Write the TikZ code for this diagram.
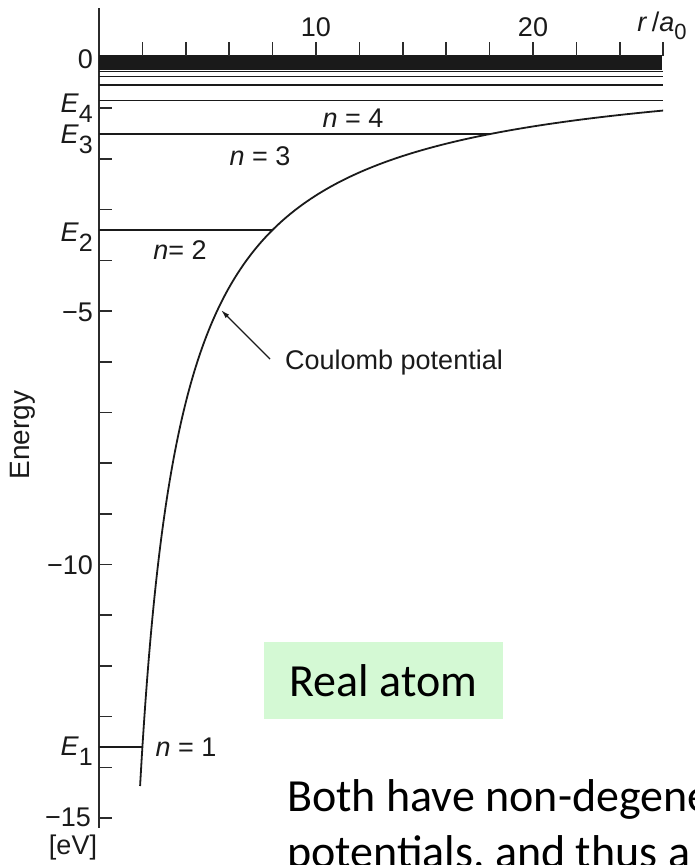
\documentclass[tikz,border=0pt]{standalone}
\usepackage{fontspec}
\setmainfont{Carlito}
\newfontfamily\figfont{Liberation Sans}
\usetikzlibrary{arrows.meta,positioning}
\definecolor{ink}{HTML}{1A1A1A}
\definecolor{axisC}{HTML}{2B2B2B}
\definecolor{boxC}{HTML}{D4F9D4}
\newcommand{\figsz}{\figfont\fontsize{27}{30}\selectfont}
\newcommand{\slidesz}{\fontsize{46}{56}\selectfont}
\newcommand{\esub}[1]{\textit{E}\raisebox{-10pt}{\fontsize{25}{25}\selectfont #1}}
\newcommand{\elevel}[1]{%
  \pgfmathsetmacro{\lvy}{57.5+689.52/(#1*#1)}%
  \pgfmathsetmacro{\lvx}{99+21.7*min(2*#1*#1,26)}%
  \draw[lvl] (99,\lvy) -- (\lvx,\lvy);
}
\tikzset{
  >={Latex[length=9pt,width=5pt]},
  axisln/.style={draw=axisC,line width=1.8pt},
  lvl/.style={draw=ink,line width=1.5pt},
  tk/.style={draw=axisC,line width=1.6pt},
  numlab/.style={font=\figsz,text=ink,inner sep=0pt},
  elab/.style={font=\figsz,text=ink,inner sep=0pt,anchor=base east},
  nlab/.style={font=\figsz,text=ink,inner sep=0pt},
  pot/.style={draw=ink,line width=1.8pt},
  ptr/.style={->,draw=ink,line width=1.4pt},
  realbox/.style={fill=boxC,minimum width=239pt,minimum height=77pt,font=\slidesz,text=black},
  slidetxt/.style={font=\slidesz,text=black,inner sep=0pt,anchor=base west},
}

\begin{document}
\begin{tikzpicture}[x=1pt,y=-1pt]
\useasboundingbox (0,0) rectangle (695,865);
\clip (0,0) rectangle (695,865);

% ================= AXES =================
\draw[axisln] (99,8) -- (99,828);
\fill[ink] (99,55) rectangle (662,70);
\foreach \k in {1,...,15} \draw[tk] (99,57.5+50.7*\k) -- (112,57.5+50.7*\k);
\foreach \r in {2,4,...,26} \draw[tk] (99+21.7*\r,56) -- (99+21.7*\r,42);

% ================= LEVELS + POTENTIAL =================
\foreach \n in {1,...,7} {\elevel{\n}}
\draw[pot] plot[domain=1.893:26,samples=300,smooth] ({99+21.7*\x},{57.5+1379.04/\x});

% ================= LABELS =================
\node[numlab,anchor=east] (z0) at (93,59) {0};
\node[numlab,anchor=east] (m5) at (93,312) {−5};
\node[numlab,anchor=east] (m10) at (93,565) {−10};
\node[numlab,anchor=east] (m15) at (91,817) {−15};
\node[numlab] (ev) at (73,848) {[eV]};
\node[numlab,rotate=90,font=\figfont\fontsize{28}{30}\selectfont] (en) at (23,435) {Energy};
\node[elab] (e4) at (93,112) {\esub{4}};
\node[elab] (e3) at (93,143) {\esub{3}};
\node[elab] (e2) at (93,241) {\esub{2}};
\node[elab] (e1) at (93,755) {\esub{1}};
\node[numlab] (t10) at (316,27) {10};
\node[numlab] (t20) at (533,27) {20};
\node[numlab] (ra) at (662,26) {\textit{r}\,/\textit{a}\raisebox{-8pt}{\fontsize{22}{22}\selectfont 0}};
\node[nlab] (n4) at (353,118) {\textit{n} = 4};
\node[nlab] (n3) at (260,156) {\textit{n} = 3};
\node[nlab] (n2) at (180,250) {\textit{n}= 2};
\node[nlab] (n1) at (186,747) {\textit{n} = 1};
\node[nlab,anchor=west] (clab) at (285,363) {Coulomb potential};
\coordinate (cpot) at (221,310);
\draw[ptr] ([shift={(-15,-4)}]clab.west) -- (cpot);

% ================= SLIDE TEXT =================
\node[realbox] (real) at (383.5,680.5) {Real atom};
\node[slidetxt] (both) at (287,811) {Both have non-degenerate};
\node[slidetxt] (pots) at (287,867) {potentials, and thus a};

\end{tikzpicture}
\end{document}
